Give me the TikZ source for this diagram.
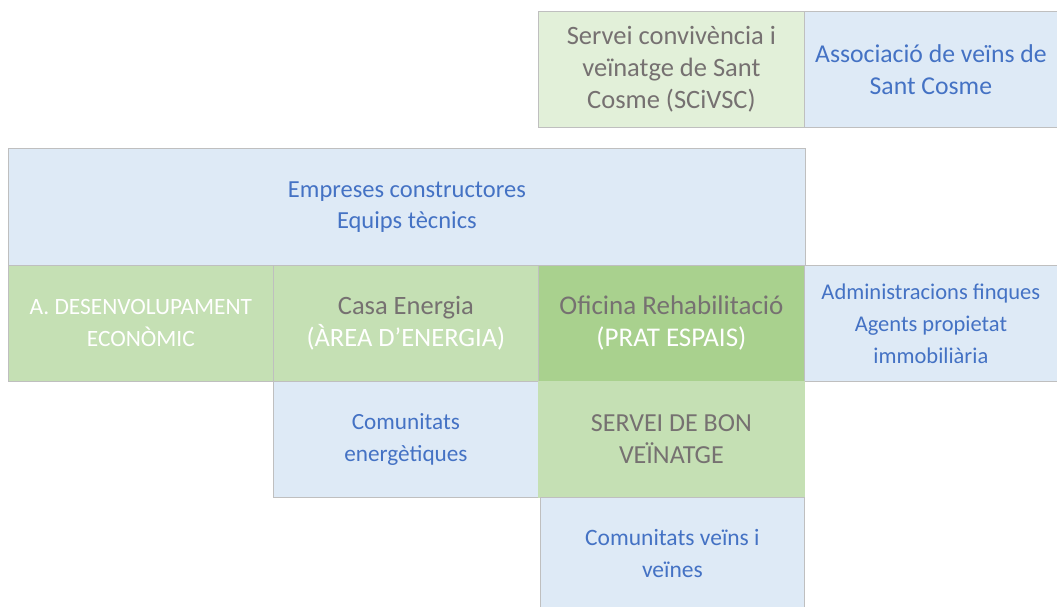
\documentclass[tikz,border=0pt]{standalone}
\usepackage{fontspec}
\setmainfont{Carlito}
\definecolor{bfill}{HTML}{DEEAF6}
\definecolor{gfill}{HTML}{C5E0B4}
\definecolor{lgfill}{HTML}{E2F0D9}
\definecolor{dgfill}{HTML}{A9D18E}
\definecolor{btext}{HTML}{4472C4}
\definecolor{gtext}{HTML}{767171}
\definecolor{edge}{HTML}{BFBFBF}
\tikzset{
  cell/.style={draw=edge, line width=0.8pt, anchor=north west, inner sep=0pt, align=center,
    font=\fontsize{24.5}{31}\selectfont},
  bluecell/.style={cell, fill=bfill, text=btext},
  greencell/.style={cell, fill=gfill, text=gtext},
  dgreencell/.style={cell, fill=dgfill, text=gtext},
  fs/.style={font=\fontsize{#1}{32}\selectfont},
}
\begin{document}
\begin{tikzpicture}[x=1pt,y=-1pt]
\useasboundingbox (0,0) rectangle (1057,607);
% row 0
\node[greencell, fill=lgfill, fs=26.5, minimum width=266pt, minimum height=116pt] (sci) at (538,11)
  {Servei\ convivència i\\veïnatge de Sant\\Cosme (SCiVSC)};
\node[bluecell, fs=25.7, minimum width=253pt, minimum height=116pt] (assoc) at (804,11)
  {Associació de veïns de\\Sant Cosme};
% row 1
\node[bluecell, minimum width=797pt, minimum height=117pt] (emp) at (8,148)
  {Empreses constructores\\Equips tècnics};
% row 2
\node[greencell, text=white, fs=23.4, minimum width=265pt, minimum height=116pt] (ade) at (8,265)
  {A. DESENVOLUPAMENT\\ECONÒMIC};
\node[greencell, fs=26.5, minimum width=265pt, minimum height=116pt] (casa) at (273,265)
  {Casa Energia\\\textcolor{white}{(ÀREA D’ENERGIA)}};
\node[dgreencell, fs=27, minimum width=266pt, minimum height=116pt] (ofi) at (538,265)
  {Oficina Rehabilitació\\\textcolor{white}{(PRAT ESPAIS)}};
\node[bluecell, fs=22.5, minimum width=253pt, minimum height=116pt] (adm) at (804,265)
  {Administracions finques\\Agents propietat\\immobiliària};
% row 3
\node[bluecell, fs=23.2, minimum width=265pt, minimum height=116pt] (cen) at (273,381)
  {Comunitats\\energètiques};
\node[greencell, draw=gfill, fs=26, minimum width=266pt, minimum height=116pt] (sbv) at (538,381)
  {SERVEI DE BON\\VEÏNATGE};
% row 4
\node[bluecell, fs=23.5, minimum width=264pt, minimum height=112pt] (cvv) at (540,497)
  {Comunitats veïns i\\veïnes};
\end{tikzpicture}
\end{document}
